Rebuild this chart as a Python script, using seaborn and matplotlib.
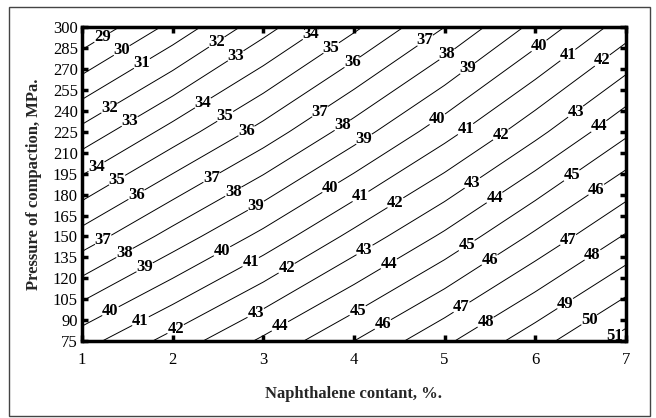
import matplotlib
matplotlib.use("Agg")
import matplotlib.pyplot as plt
from matplotlib.patches import Rectangle
import numpy as np
import pandas as pd
import seaborn as sns

# Naphthalene content (%) and pressure of compaction (MPa) grid
naphthalene = [1, 2, 3, 4, 5, 6, 7]
pressure = [75, 150, 225, 300]
# response values, one row per pressure
row_75 = [40.6, 42.4, 44.2, 46.0, 47.8, 49.6, 51.4]
row_150 = [36.4, 38.4, 40.3, 42.3, 44.2, 46.2, 48.1]
row_225 = [32.3, 34.4, 36.4, 38.5, 40.6, 42.7, 44.8]
row_300 = [28.1, 30.3, 32.6, 34.8, 37.0, 39.3, 41.5]
levels = list(range(29, 52))

# where the contour labels sit (x, y)
LABEL_SPOTS = [
    (1.23, 292), (1.45, 282), (1.67, 273), (2.49, 289), (2.71, 278), (3.51, 296),
    (3.76, 284), (3.98, 275), (4.78, 291), (5.02, 281), (5.25, 271), (6.05, 286),
    (6.36, 280), (6.73, 277),
    (1.31, 241), (1.53, 232), (2.34, 245), (2.58, 236), (2.82, 225), (3.62, 240),
    (3.87, 230), (4.09, 222), (4.91, 235), (5.22, 228), (5.61, 224), (6.44, 240),
    (6.69, 230),
    (1.16, 200), (1.40, 189), (1.60, 180), (2.43, 192), (2.67, 182), (2.91, 173),
    (3.73, 186), (4.06, 180), (4.45, 175), (5.30, 189), (5.55, 178), (6.40, 194),
    (6.68, 183),
    (1.23, 148), (1.47, 138), (1.69, 128), (2.54, 140), (2.85, 133), (3.26, 127),
    (4.12, 140), (4.38, 131), (5.24, 144), (5.50, 133), (6.36, 148), (6.62, 138),
    (1.31, 97), (1.64, 90), (2.03, 84), (2.91, 96), (3.18, 86), (4.04, 97),
    (4.31, 88), (5.19, 99), (5.44, 90), (6.33, 102), (6.58, 92), (6.86, 80),
]

grid = pd.DataFrame([row_75, row_150, row_225, row_300],
                    index=pressure, columns=naphthalene)

sns.set_theme(style="ticks")
plt.rcParams["font.family"] = ["Liberation Serif", "DejaVu Serif"]

fig = plt.figure(figsize=(6.56, 4.18), dpi=100)
ax = fig.add_axes([0.125, 0.184, 0.829, 0.751])

X, Y = np.meshgrid(grid.columns.values, grid.index.values)
cs = ax.contour(X, Y, grid.values, levels=levels, colors="black", linewidths=0.7)
texts = ax.clabel(cs, fmt="%d", manual=LABEL_SPOTS, inline=True,
                  inline_spacing=1, fontsize=12)
for t in texts:
    t.set_rotation(0)
    t.set_fontweight("bold")

ax.set_xlim(1, 7)
ax.set_ylim(75, 300)
ax.set_xticks(naphthalene)
ax.set_yticks(np.arange(75, 301, 15))
ax.tick_params(direction="in", length=4, width=2.5, top=True, right=True,
               labelsize=12, colors="black")
ax.tick_params(axis="x", pad=8)
ax.tick_params(axis="y", pad=3)
for sp in ax.spines.values():
    sp.set_linewidth(2.5)
    sp.set_color("black")

ax.set_xlabel("Naphthalene contant, %.", fontsize=12, fontweight="bold", labelpad=13)
ax.set_ylabel("Pressure of compaction, MPa.", fontsize=12, fontweight="bold", labelpad=8)

fig.patches.append(Rectangle((0.0137, 0.005), 0.977, 0.978, transform=fig.transFigure,
                             fill=False, edgecolor="#444444", linewidth=1))

fig.savefig("out.png", dpi=100)
